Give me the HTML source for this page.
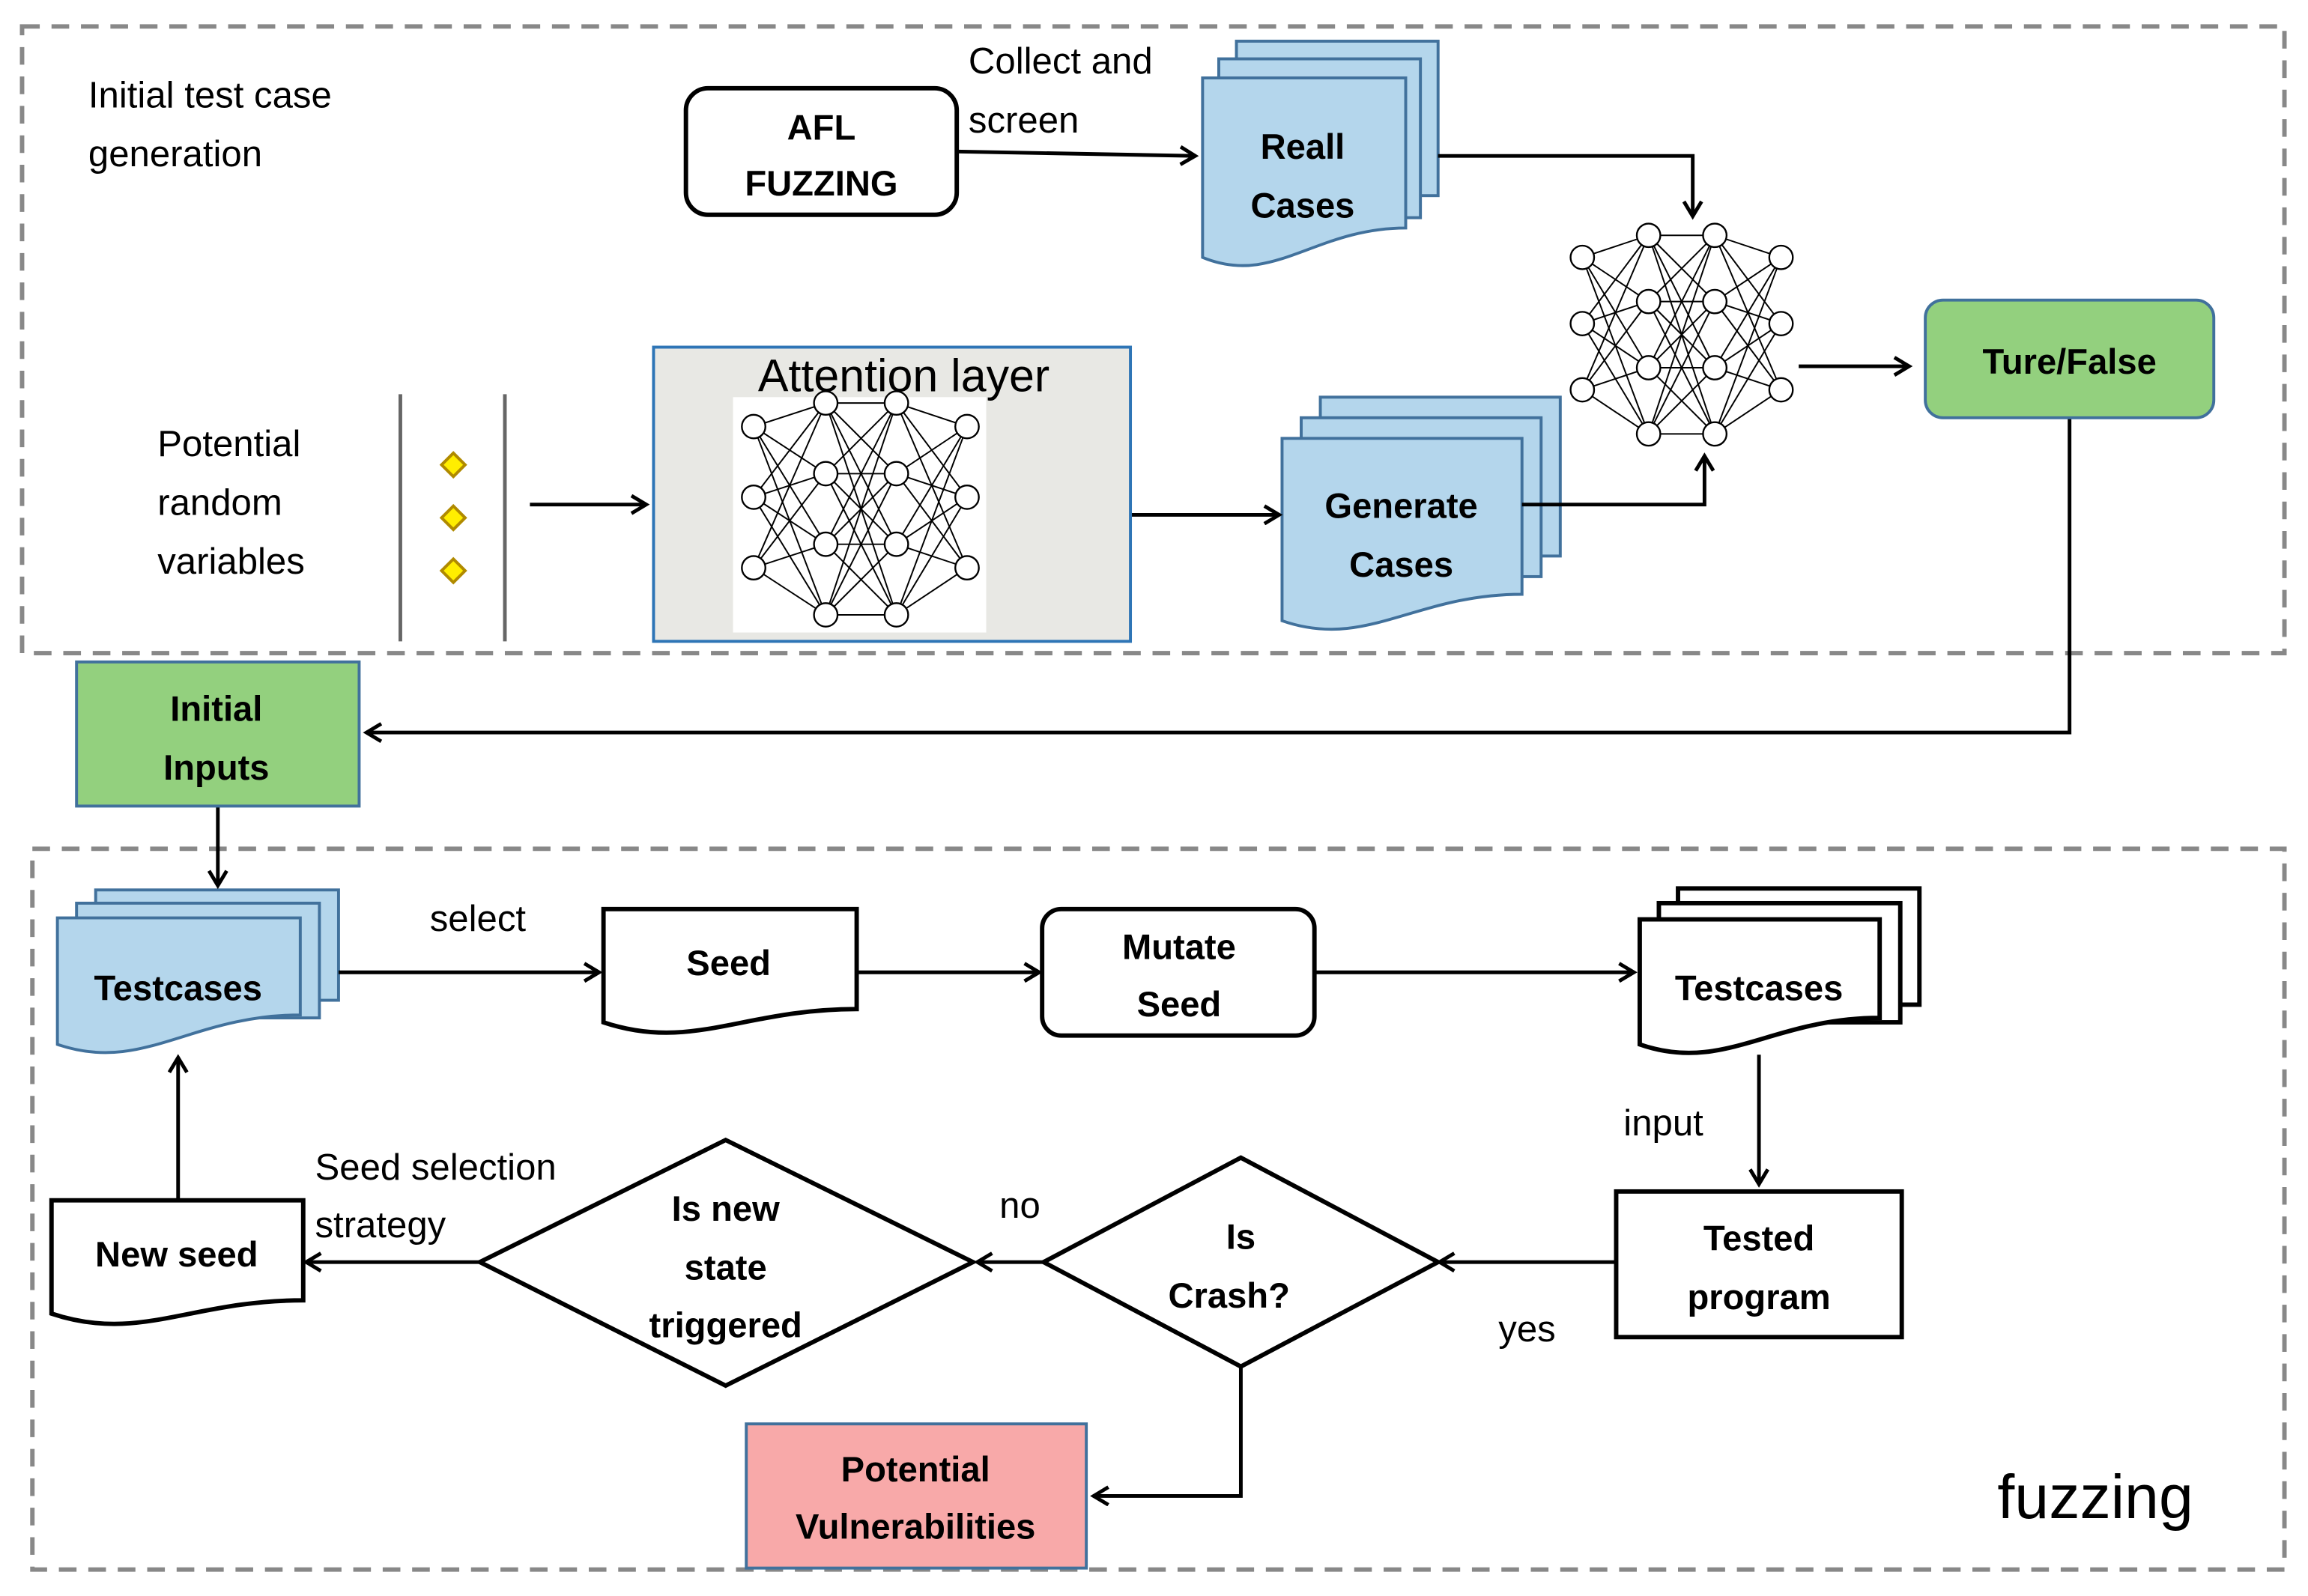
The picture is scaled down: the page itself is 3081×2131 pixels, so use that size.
<!DOCTYPE html>
<html><head><meta charset="utf-8"><style>
html,body{margin:0;padding:0;background:#fff}
svg{display:block}
text{font-family:"Liberation Sans",sans-serif;fill:#000}
.b{font-weight:bold;font-size:24px;text-anchor:middle}
.n{font-size:25px}
</style></head><body>
<svg id="s" width="3081" height="2131" viewBox="0 0 1568 1085" preserveAspectRatio="none" xmlns="http://www.w3.org/2000/svg">
<defs><marker id="a" markerWidth="14" markerHeight="14" refX="11" refY="7" orient="auto" markerUnits="userSpaceOnUse"><path d="M1,1 L11,7 L1,13" fill="none" stroke="#000" stroke-width="2.5"/></marker></defs>
<rect x="15" y="18" width="1537" height="426" fill="none" stroke="#888" stroke-width="3" stroke-dasharray="12,8"/>
<rect x="22" y="577" width="1530" height="490" fill="none" stroke="#888" stroke-width="3" stroke-dasharray="12,8"/>
<g id="docs"></g>
<g fill="none" stroke="#000" stroke-width="2.5">
<rect x="466" y="60" width="184" height="86" rx="15" stroke-width="3"/>
<line x1="650" y1="103" x2="812" y2="106" marker-end="url(#a)"/>
<polyline points="977,106 1150,106 1150,147" marker-end="url(#a)"/>
<line x1="1222" y1="249" x2="1297" y2="249" marker-end="url(#a)"/>
<polyline points="1406,284 1406,498 249,498" marker-end="url(#a)"/>
<line x1="272" y1="268" x2="272" y2="436" stroke="#666"/>
<line x1="343" y1="268" x2="343" y2="436" stroke="#666"/>
<line x1="360" y1="343" x2="439" y2="343" marker-end="url(#a)"/>
<line x1="747" y1="350" x2="869" y2="350" marker-end="url(#a)"/>
<polyline points="1034,343 1158,343 1158,310" marker-end="url(#a)"/>
<line x1="148" y1="548" x2="148" y2="602" marker-end="url(#a)"/>
<line x1="230" y1="661" x2="407" y2="661" marker-end="url(#a)"/>
<line x1="582" y1="661" x2="706" y2="661" marker-end="url(#a)"/>
<rect x="708" y="618" width="185" height="86" rx="13" stroke-width="3"/>
<line x1="893" y1="661" x2="1110" y2="661" marker-end="url(#a)"/>
<line x1="1195" y1="717" x2="1195" y2="805" marker-end="url(#a)"/>
<rect x="1098" y="810" width="194" height="99" stroke-width="3"/>
<line x1="1098" y1="858" x2="978" y2="858" marker-end="url(#a)"/>
<polygon points="709,858 843,787 977,858 843,929" stroke-width="3"/>
<line x1="709" y1="858" x2="664" y2="858" marker-end="url(#a)"/>
<polygon points="326,858 493,775 661,858 493,942" stroke-width="3"/>
<line x1="326" y1="858" x2="208" y2="858" marker-end="url(#a)"/>
<line x1="121" y1="816" x2="121" y2="719" marker-end="url(#a)"/>
<polyline points="843,929 843,1017 743,1017" marker-end="url(#a)"/>
</g>
<rect x="1308" y="204" width="196" height="80" rx="12" fill="#93d07e" stroke="#41719c" stroke-width="2"/>
<rect x="52" y="450" width="192" height="98" fill="#93d07e" stroke="#41719c" stroke-width="2"/>
<rect x="507" y="968" width="231" height="98" fill="#f8a9a9" stroke="#41719c" stroke-width="2"/>
<rect x="444" y="236" width="324" height="200" fill="#e8e8e4" stroke="#2e75b6" stroke-width="2"/>
<rect x="498" y="270" width="172" height="160" fill="#fff"/>
<g id="nn"></g>
<g fill="#ffee00" stroke="#b08a00" stroke-width="2">
<polygon points="308,308 316,316 308,324 300,316"/><polygon points="308,344 316,352 308,360 300,352"/><polygon points="308,380 316,388 308,396 300,388"/></g>
<text class="n" x="60" y="73">Initial test case</text>
<text class="n" x="60" y="113">generation</text>
<text class="b" x="558" y="95">AFL</text><text class="b" x="558" y="133">FUZZING</text>
<text class="n" x="658" y="50">Collect and</text><text class="n" x="658" y="90">screen</text>
<text class="b" x="885" y="108">Reall</text><text class="b" x="885" y="148">Cases</text>
<text class="b" x="1406" y="254">Ture/False</text>
<text class="n" x="107" y="310">Potential</text><text class="n" x="107" y="350">random</text><text class="n" x="107" y="390">variables</text>
<text x="515" y="266" style="font-size:31px">Attention  layer</text>
<text class="b" x="952" y="352">Generate</text><text class="b" x="952" y="392">Cases</text>
<text class="b" x="147" y="490">Initial</text><text class="b" x="147" y="530">Inputs</text>
<text class="n" x="292" y="633">select</text>
<text class="b" x="121" y="680">Testcases</text>
<text class="b" x="495" y="663">Seed</text>
<text class="b" x="801" y="652">Mutate</text><text class="b" x="801" y="691">Seed</text>
<text class="b" x="1195" y="680">Testcases</text>
<text class="n" x="1103" y="772">input</text>
<text class="b" x="1195" y="850">Tested</text><text class="b" x="1195" y="890">program</text>
<text class="n" x="1018" y="912">yes</text>
<text class="b" x="843" y="849">Is</text><text class="b" x="835" y="889">Crash?</text>
<text class="n" x="679" y="828">no</text>
<text class="b" x="493" y="830">Is new</text><text class="b" x="493" y="870">state</text><text class="b" x="493" y="909">triggered</text>
<text class="n" x="214" y="802">Seed selection</text><text class="n" x="214" y="841">strategy</text>
<text class="b" x="120" y="861">New seed</text>
<text class="b" x="622" y="1007">Potential</text><text class="b" x="622" y="1046">Vulnerabilities</text>
<text x="1357" y="1032" style="font-size:42px">fuzzing</text>
</svg>
<script>
var NS="http://www.w3.org/2000/svg";
function el(p,t,a){var e=document.createElementNS(NS,t);for(var k in a)e.setAttribute(k,a[k]);p.appendChild(e);return e;}
var D=document.getElementById("docs");
function doc(x1,y1,x2,yr,yl,fill,st){var w=x2-x1;
 el(D,"path",{d:"M"+x1+","+y1+" H"+x2+" V"+yr+" C"+(x1+0.55*w)+","+yr+" "+(x1+0.35*w)+","+(yl+20)+" "+x1+","+yl+" Z",fill:fill,stroke:st,"stroke-width":st=="#000"?3:2});}
function rect(x1,y1,x2,y2,fill,st){el(D,"rect",{x:x1,y:y1,width:x2-x1,height:y2-y1,fill:fill,stroke:st,"stroke-width":st=="#000"?3:2});}
var B="#b4d6ec",S="#41719c";
rect(840,28,977,133,B,S);rect(828,40,965,148,B,S);doc(817,53,955,155,175,B,S);
rect(897,270,1060,378,B,S);rect(884,284,1047,392,B,S);doc(871,298,1034,404,422,B,S);
rect(65,605,230,680,B,S);rect(52,614,217,692,B,S);doc(39,624,204,690,710,B,S);
rect(1140,604,1304,683,"#fff","#000");rect(1127,614,1291,695,"#fff","#000");doc(1114,625,1277,692,710,"#fff","#000");
doc(410,618,582,686,695,"#fff","#000");
doc(35,816,206,884,893,"#fff","#000");
var N=document.getElementById("nn");
function net(xs,ys){var r=8;
 for(var l=0;l<3;l++)for(var i=0;i<ys[l].length;i++)for(var j=0;j<ys[l+1].length;j++)
  el(N,"line",{x1:xs[l],y1:ys[l][i],x2:xs[l+1],y2:ys[l+1][j],stroke:"#000","stroke-width":1});
 for(var l=0;l<4;l++)for(var i=0;i<ys[l].length;i++)el(N,"circle",{cx:xs[l],cy:ys[l][i],r:r,fill:"#fff",stroke:"#000","stroke-width":1.2});}
net([1075,1120,1165,1210],[[175,220,265],[160,205,250,295],[160,205,250,295],[175,220,265]]);
net([512,561,609,657],[[290,338,386],[274,322,370,418],[274,322,370,418],[290,338,386]]);
</script>
</body></html>
